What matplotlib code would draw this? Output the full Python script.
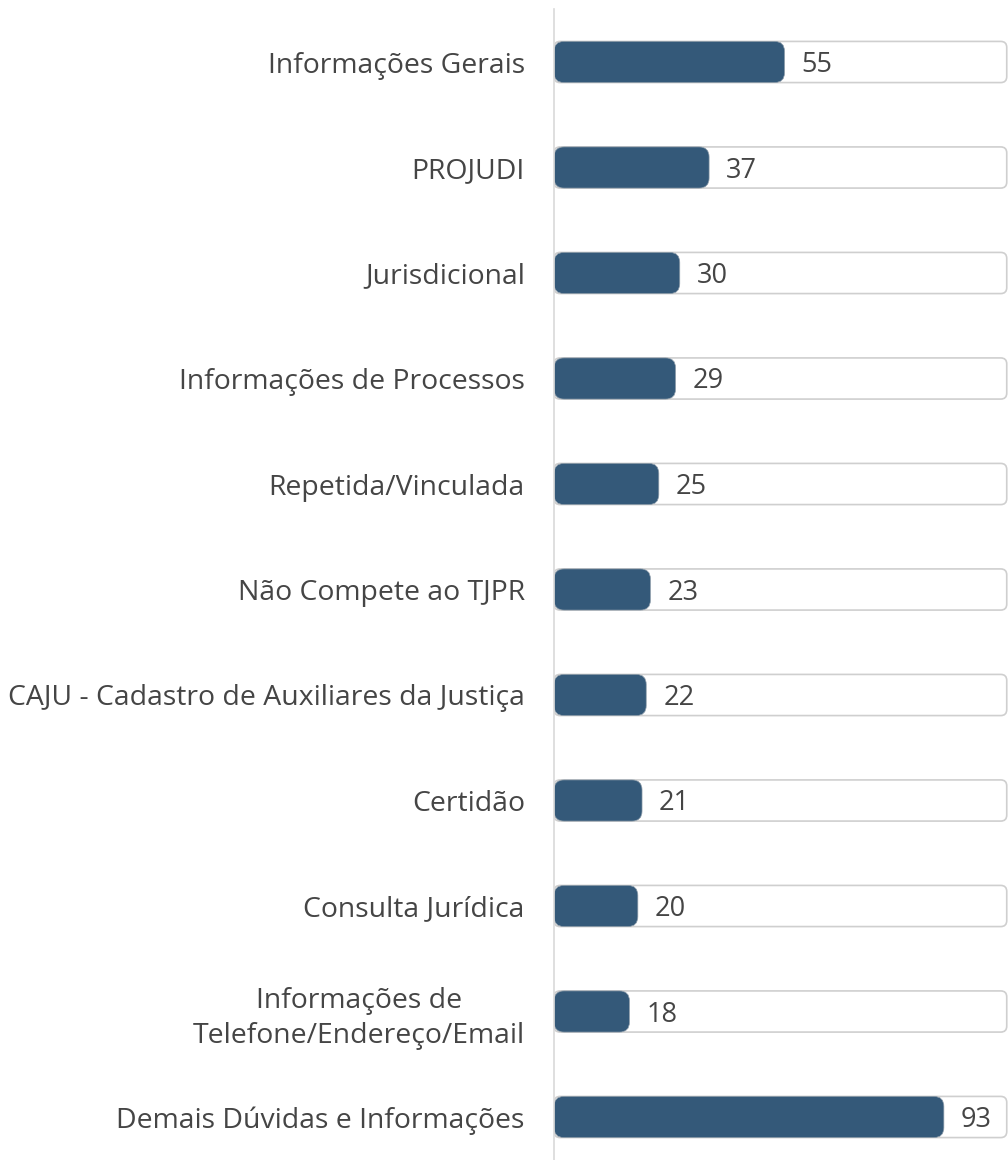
import matplotlib
matplotlib.use("Agg")
import matplotlib.pyplot as plt
from matplotlib.patches import FancyBboxPatch

categories = [
    "Informações Gerais",
    "PROJUDI",
    "Jurisdicional",
    "Informações de Processos",
    "Repetida/Vinculada",
    "Não Compete ao TJPR",
    "CAJU - Cadastro de Auxiliares da Justiça",
    "Certidão",
    "Consulta Jurídica",
    "Informações de\nTelefone/Endereço/Email",
    "Demais Dúvidas e Informações",
]
values = [55, 37, 30, 29, 25, 23, 22, 21, 20, 18, 93]
track_max = 108

BAR = "#345979"
TXT = "#454545"
plt.rcParams['font.family'] = ['Open Sans', 'DejaVu Sans']

W, H = 1008, 1160
fig = plt.figure(figsize=(W / 100, H / 100), dpi=100)
left = 554 / W
top_px = 9.25
bot_px = 1169.75
ax = fig.add_axes([left, (H - bot_px) / H, 1 - left, (bot_px - top_px) / H])

n = len(categories)
ypos = list(range(n))
ax.set_ylim(n - 0.5, -0.5)
ax.set_xlim(0, 108.3)

h = 0.39
tracks = ax.barh(ypos, [track_max] * n, height=h, color="white")
bars = ax.barh(ypos, values, height=h, color=BAR)

fig.canvas.draw()
bbox = ax.get_window_extent()
xpp = 108.3 / bbox.width
ypp = n / bbox.height
aspect = ypp / xpp

def rounded(p, fc, ec, lw, r_px, z):
    x, y, w, hh = p.get_x(), p.get_y(), p.get_width(), p.get_height()
    fp = FancyBboxPatch((x, y), w, hh,
                        boxstyle=f"round,pad=0,rounding_size={r_px * xpp}",
                        mutation_aspect=aspect, fc=fc, ec=ec, lw=lw, zorder=z)
    ax.add_patch(fp)
    p.remove()

for p in list(tracks):
    rounded(p, "white", "#cfcfcf", 1.2, 6, 2)
for p in list(bars):
    rounded(p, BAR, "#8e9daa", 0.5, 10, 3)

for yi, v in zip(ypos, values):
    ax.annotate(str(v), (v, yi), xytext=(17, -3), textcoords="offset pixels",
                ha="left", va="center", fontsize=19.5, color=TXT, zorder=4)

ax.set_yticks(ypos)
ax.set_yticklabels(categories, fontsize=20.4, color=TXT, ha="right",
                   multialignment="center", linespacing=1.33)
ax.tick_params(axis="y", length=0, pad=21)
ax.set_xticks([])
for s in ["top", "right", "bottom"]:
    ax.spines[s].set_visible(False)
ax.spines["left"].set_color("#d9d9d9")
ax.spines["left"].set_linewidth(1.2)
ax.spines["left"].set_zorder(5)

fig.savefig("out.png", dpi=100)
